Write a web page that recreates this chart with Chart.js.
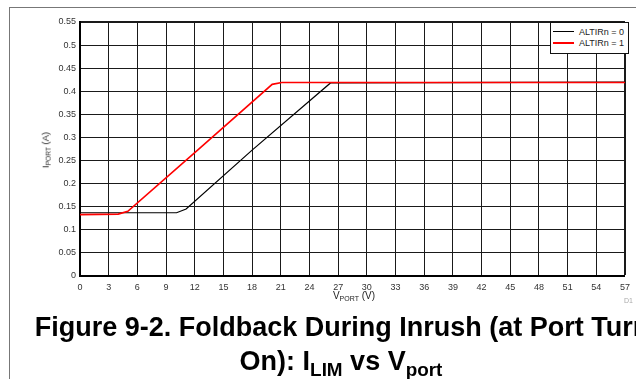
<!DOCTYPE html>
<html>
<head>
<meta charset="utf-8">
<script src="https://cdn.jsdelivr.net/npm/chart.js"></script>
<style>
  html, body { margin: 0; padding: 0; background: #fff; }
  #wrap { position: relative; width: 636px; height: 379px; overflow: hidden; background: #fff;
          font-family: "Liberation Sans", Arial, sans-serif; }
  #frame { position: absolute; left: 9px; top: 7px; width: 700px; height: 400px;
           border-left: 1px solid #777; border-top: 1px solid #777; }
  #chartBox { position: absolute; left: 0; top: 0; width: 636px; height: 379px; }
  .lbl { position: absolute; white-space: nowrap; color: #222; }
  .lbl sub { font-size: 0.7em; vertical-align: -0.25em; }
  #ytitle { left: 47px; top: 150px; font-size: 9.5px; line-height: 10px;
            transform: translate(-50%, -50%) rotate(-90deg); }
  #xtitle { left: 354px; top: 291px; font-size: 10px; line-height: 10px; transform: translateX(-50%); }
  #dnum { left: 624px; top: 297px; font-size: 7px; color: #aaa; }
  .cap { position: absolute; white-space: nowrap; font-weight: bold; font-size: 27px; line-height: 27px;
         color: #000; transform: translateX(-50%); }
  .cap sub { font-size: 0.7em; vertical-align: -0.3em; }
  #cap1 { left: 342px; top: 314px; }
  #cap2 { left: 341px; top: 348px; }
  #legend { position: absolute; left: 550px; top: 22px; width: 77px; height: 30px;
            border: 1.5px solid #111; background: #fff; font-size: 9px; color: #222; }
  .row { position: absolute; left: 2px; height: 10px; line-height: 10px; }
  .row span.swatch { position: absolute; left: 0; top: 4px; width: 21px; }
  .row span.txt { position: absolute; left: 26px; top: 0; white-space: nowrap; }
</style>
</head>
<body>
<div id="wrap">
  <div id="frame"></div>
  <div id="chartBox"><canvas id="foldbackChart" width="636" height="379"></canvas></div>
  <div class="lbl" id="ytitle">I<sub>PORT</sub> (A)</div>
  <div class="lbl" id="xtitle">V<sub>PORT</sub> (V)</div>
  <div class="lbl" id="dnum">D1</div>
  <div id="legend"></div>
  <div class="cap" id="cap1">Figure 9-2. Foldback During Inrush (at Port Turn</div>
  <div class="cap" id="cap2">On): I<sub>LIM</sub> vs V<sub>port</sub></div>
</div>
<script>
// series
const seriesNames = ['ALTIRn = 0', 'ALTIRn = 1'];
const seriesColors = ['#000000', '#ff0000'];

const vport0 = [0, 10.1, 11.1, 18.0, 26.2, 57];
const ilim0 = [0.137, 0.137, 0.145, 0.2725, 0.418, 0.420];

const vport1 = [0, 4.0, 5.0, 12.3, 20.1, 21.1, 57];
const ilim1 = [0.133, 0.134, 0.140, 0.2725, 0.415, 0.419, 0.419];

const xTickLabels = ['0', '3', '6', '9', '12', '15', '18', '21', '24', '27', '30',
  '33', '36', '39', '42', '45', '48', '51', '54', '57'];
const yTickLabels = ['0', '0.05', '0.1', '0.15', '0.2', '0.25', '0.3', '0.35',
  '0.4', '0.45', '0.5', '0.55'];

function toPoints(xs, ys) {
  return xs.map((x, i) => ({ x: x, y: ys[i] }));
}

// html legend (boxed, top-right inside the plot)
const legendEl = document.getElementById('legend');
seriesNames.forEach((name, i) => {
  const row = document.createElement('div');
  row.className = 'row';
  row.style.top = (4 + i * 11) + 'px';
  row.innerHTML = '<span class="swatch" style="height:' + (i === 1 ? 2 : 1) +
    'px;background:' + seriesColors[i] + '"></span><span class="txt">' + name + '</span>';
  legendEl.appendChild(row);
});

const ctx = document.getElementById('foldbackChart').getContext('2d');

const foldbackChart = new Chart(ctx, {
  type: 'line',
  data: {
    datasets: [{
      label: seriesNames[0],
      data: toPoints(vport0, ilim0),
      borderColor: seriesColors[0],
      borderWidth: 1.2,
      pointRadius: 0,
      fill: false,
      order: 1
    }, {
      label: seriesNames[1],
      data: toPoints(vport1, ilim1),
      borderColor: seriesColors[1],
      borderWidth: 1.6,
      pointRadius: 0,
      fill: false,
      order: 0
    }]
  },
  options: {
    responsive: false,
    animation: false,
    layout: {
      padding: { left: 0, right: 8, top: 22, bottom: 73 }
    },
    scales: {
      x: {
        type: 'linear',
        min: 0,
        max: 57,
        afterFit: scale => { scale.height = 30; },
        afterBuildTicks: scale => {
          scale.ticks = xTickLabels.map(t => ({ value: Number(t) }));
        },
        ticks: {
          autoSkip: false,
          maxRotation: 0,
          padding: 6,
          color: '#333',
          font: { family: 'Liberation Sans, Arial', size: 9 },
          callback: (value, index) => xTickLabels[index]
        },
        grid: {
          drawTicks: false,
          color: '#1a1a1a',
          lineWidth: c => (c.tick && c.tick.value === 57 ? 2 : 1)
        },
        border: { color: '#000', width: 2 }
      },
      y: {
        min: 0,
        max: 0.55,
        afterFit: scale => { scale.width = 80; },
        afterBuildTicks: scale => {
          scale.ticks = yTickLabels.map(t => ({ value: Number(t) }));
        },
        ticks: {
          padding: 4,
          color: '#333',
          font: { family: 'Liberation Sans, Arial', size: 9 },
          callback: (value, index) => yTickLabels[index]
        },
        grid: {
          drawTicks: false,
          color: '#1a1a1a',
          lineWidth: c => (c.tick && c.tick.value === 0.55 ? 2 : 1)
        },
        border: { color: '#000', width: 2 }
      }
    },
    plugins: {
      legend: { display: false },
      tooltip: { enabled: false }
    }
  }
});
</script>
</body>
</html>
